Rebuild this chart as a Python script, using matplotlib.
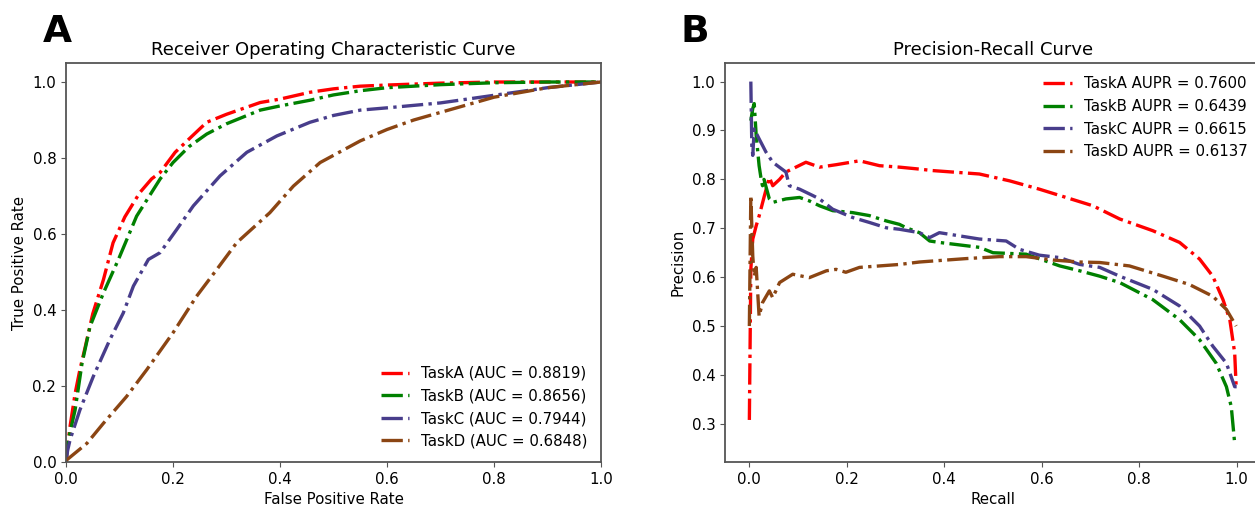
import matplotlib
matplotlib.use("Agg")
import matplotlib.pyplot as plt

# ---------------- ROC data ----------------
fpr_a = [0, 0.002, 0.0075, 0.017, 0.026, 0.036, 0.05, 0.07, 0.088, 0.11, 0.138, 0.16, 0.176, 0.204, 0.23, 0.263, 0.30, 0.363, 0.40, 0.456, 0.50, 0.55, 0.6, 0.7, 0.8, 0.9, 1.0]
tpr_a = [0, 0.03, 0.093, 0.18, 0.243, 0.303, 0.39, 0.48, 0.577, 0.645, 0.709, 0.745, 0.762, 0.815, 0.85, 0.894, 0.915, 0.946, 0.955, 0.973, 0.982, 0.989, 0.992, 0.997, 1.0, 1.0, 1.0]

fpr_b = [0, 0.003, 0.017, 0.03, 0.045, 0.07, 0.098, 0.132, 0.176, 0.2, 0.23, 0.263, 0.30, 0.363, 0.40, 0.456, 0.5, 0.55, 0.6, 0.7, 0.8, 0.9, 1.0]
tpr_b = [0, 0.05, 0.137, 0.26, 0.357, 0.445, 0.533, 0.647, 0.745, 0.788, 0.83, 0.863, 0.89, 0.926, 0.937, 0.952, 0.966, 0.977, 0.985, 0.993, 0.998, 1.0, 1.0]

fpr_c = [0, 0.003, 0.0075, 0.026, 0.051, 0.082, 0.107, 0.126, 0.154, 0.176, 0.207, 0.238, 0.288, 0.338, 0.394, 0.456, 0.5, 0.55, 0.6, 0.7, 0.8, 0.9, 1.0]
tpr_c = [0, 0.03, 0.058, 0.137, 0.225, 0.322, 0.392, 0.463, 0.533, 0.551, 0.612, 0.674, 0.753, 0.815, 0.858, 0.894, 0.912, 0.926, 0.932, 0.945, 0.965, 0.985, 1.0]

fpr_d = [0, 0.001, 0.039, 0.07, 0.113, 0.151, 0.2, 0.244, 0.282, 0.319, 0.381, 0.425, 0.475, 0.55, 0.6, 0.65, 0.7, 0.8, 0.9, 1.0]
tpr_d = [0, 0.005, 0.049, 0.102, 0.172, 0.243, 0.34, 0.436, 0.507, 0.577, 0.656, 0.726, 0.788, 0.845, 0.875, 0.9, 0.92, 0.96, 0.985, 1.0]

auc_vals = [0.8819, 0.8656, 0.7944, 0.6848]

# ---------------- PR data ----------------
rec_a = [0, 0.001, 0.003, 0.007, 0.014, 0.02, 0.031, 0.041, 0.048, 0.062, 0.075, 0.116, 0.144, 0.178, 0.226, 0.267, 0.308, 0.349, 0.376, 0.472, 0.534, 0.595, 0.65, 0.705, 0.76, 0.828, 0.883, 0.924, 0.951, 0.972, 0.986, 0.996, 0.999]
prec_a = [0.308, 0.411, 0.616, 0.678, 0.705, 0.725, 0.767, 0.804, 0.787, 0.8, 0.815, 0.835, 0.825, 0.83, 0.838, 0.828, 0.825, 0.821, 0.818, 0.811, 0.797, 0.78, 0.763, 0.746, 0.719, 0.695, 0.671, 0.637, 0.602, 0.554, 0.513, 0.445, 0.376]

rec_b = [0.003, 0.007, 0.01, 0.014, 0.02, 0.025, 0.027, 0.03, 0.041, 0.048, 0.075, 0.103, 0.123, 0.144, 0.171, 0.212, 0.246, 0.281, 0.308, 0.322, 0.349, 0.37, 0.39, 0.472, 0.5, 0.568, 0.637, 0.678, 0.719, 0.76, 0.828, 0.883, 0.924, 0.958, 0.979, 0.989, 0.996, 1.0]
prec_b = [0.92, 0.945, 0.955, 0.89, 0.828, 0.795, 0.787, 0.8, 0.76, 0.753, 0.76, 0.763, 0.756, 0.746, 0.736, 0.732, 0.726, 0.715, 0.708, 0.701, 0.691, 0.674, 0.671, 0.661, 0.65, 0.647, 0.623, 0.613, 0.602, 0.589, 0.554, 0.513, 0.472, 0.424, 0.376, 0.335, 0.26, 0.26]

rec_c = [0.003, 0.005, 0.007, 0.01, 0.02, 0.034, 0.048, 0.075, 0.082, 0.103, 0.13, 0.144, 0.171, 0.212, 0.246, 0.281, 0.308, 0.349, 0.37, 0.39, 0.472, 0.527, 0.554, 0.595, 0.637, 0.678, 0.719, 0.76, 0.828, 0.883, 0.924, 0.951, 0.979, 0.996, 1.0]
prec_c = [1.0, 0.87, 0.849, 0.903, 0.883, 0.856, 0.835, 0.815, 0.787, 0.78, 0.767, 0.76, 0.739, 0.722, 0.712, 0.701, 0.698, 0.691, 0.681, 0.691, 0.678, 0.674, 0.657, 0.645, 0.64, 0.626, 0.62, 0.602, 0.575, 0.541, 0.5, 0.459, 0.424, 0.376, 0.376]

rec_d = [0, 0.002, 0.003, 0.007, 0.01, 0.014, 0.02, 0.027, 0.041, 0.048, 0.062, 0.089, 0.123, 0.158, 0.178, 0.198, 0.226, 0.267, 0.308, 0.349, 0.376, 0.445, 0.513, 0.568, 0.623, 0.678, 0.719, 0.78, 0.849, 0.903, 0.951, 0.979, 0.999]
prec_d = [0.5, 0.68, 0.767, 0.643, 0.602, 0.62, 0.52, 0.548, 0.572, 0.558, 0.589, 0.606, 0.599, 0.613, 0.616, 0.61, 0.62, 0.623, 0.626, 0.631, 0.633, 0.638, 0.642, 0.642, 0.635, 0.631, 0.63, 0.623, 0.602, 0.585, 0.561, 0.534, 0.5]

aupr_vals = [0.7600, 0.6439, 0.6615, 0.6137]

tasks = ["TaskA", "TaskB", "TaskC", "TaskD"]
colors = ["red", "green", "darkslateblue", "saddlebrown"]

roc_x = [fpr_a, fpr_b, fpr_c, fpr_d]
roc_y = [tpr_a, tpr_b, tpr_c, tpr_d]
pr_x = [rec_a, rec_b, rec_c, rec_d]
pr_y = [prec_a, prec_b, prec_c, prec_d]

plt.rcParams["font.size"] = 10.8
spine_col = "#555555"

fig = plt.figure(figsize=(12.55, 5.07), dpi=100)
ax1 = fig.add_axes([66/1255, 45/507, (601-66)/1255, (462-63)/507])
ax2 = fig.add_axes([725/1255, 45/507, (1261-725)/1255, (462-63)/507])

for t, c, x, y, v in zip(tasks, colors, roc_x, roc_y, auc_vals):
    ax1.plot(x, y, linestyle="-.", color=c, lw=2.4, label=f"{t} (AUC = {v:.4f})")
ax1.set_xlim(0, 1)
ax1.set_ylim(0, 1.05)
ax1.set_xlabel("False Positive Rate")
ax1.set_ylabel("True Positive Rate")
ax1.set_title("Receiver Operating Characteristic Curve", fontsize=13)
ax1.legend(loc="lower right", frameon=False, handlelength=1.9)

for t, c, x, y, v in zip(tasks, colors, pr_x, pr_y, aupr_vals):
    ax2.plot(x, y, linestyle="-.", color=c, lw=2.4, label=f"{t} AUPR = {v:.4f}")
ax2.set_xlim(-0.05, 1.05)
ax2.set_ylim(0.222, 1.038)
ax2.set_xlabel("Recall")
ax2.set_ylabel("Precision")
ax2.set_title("Precision-Recall Curve", fontsize=13)
ax2.legend(loc="upper right", frameon=False, handlelength=1.9, bbox_to_anchor=(1.0, 1.0))

for ax in (ax1, ax2):
    for s in ax.spines.values():
        s.set_color(spine_col)
        s.set_linewidth(1.3)
    ax.tick_params(color=spine_col)

fig.text(43/1255, 1 - 42/507, "A", fontsize=27, fontweight="bold", va="baseline", ha="left")
fig.text(680/1255, 1 - 42/507, "B", fontsize=27, fontweight="bold", va="baseline", ha="left")

fig.savefig("out.png", dpi=100)
